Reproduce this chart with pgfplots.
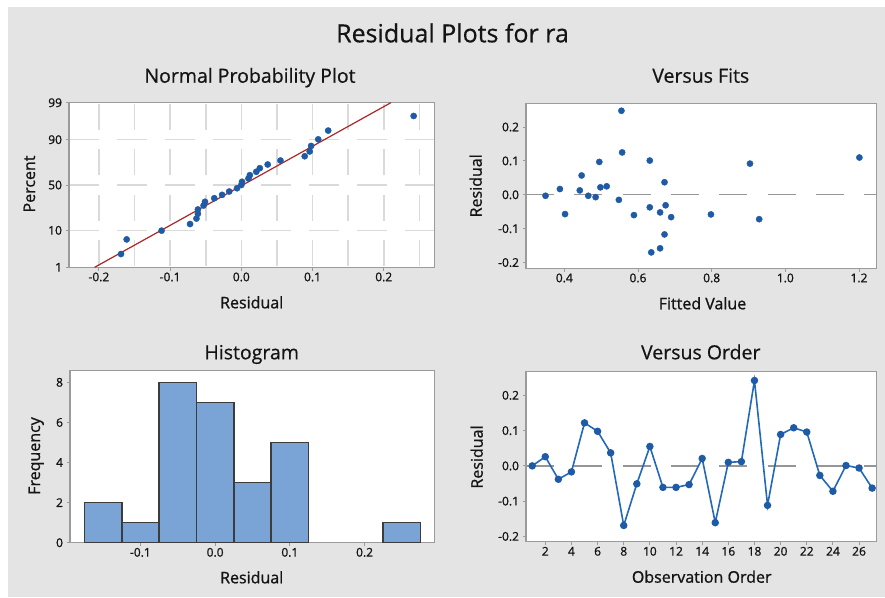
\documentclass[border=0pt]{standalone}
\usepackage{fontspec}
\setmainfont{Open Sans}
\newfontfamily\boldish{Open Sans}[FakeBold=1]
\newfontfamily\semi{Open Sans}[FakeBold=0.5]
\usepackage{pgfplots}
\pgfplotsset{compat=1.18}
\definecolor{bg}{RGB}{228,228,228}
\definecolor{frame}{RGB}{155,155,155}
\definecolor{mblue}{RGB}{30,90,165}
\definecolor{lblue}{RGB}{35,105,185}
\definecolor{mred}{RGB}{170,40,40}
\definecolor{hfill}{RGB}{122,163,214}
\definecolor{hedge}{RGB}{60,60,60}
\definecolor{txt}{RGB}{20,20,20}
\definecolor{gridc}{RGB}{218,218,218}
\definecolor{zline}{RGB}{150,150,150}

\pgfplotsset{
  mm/.style={
    scale only axis,
    anchor=north west,
    axis background/.style={fill=white},
    axis line style={draw=frame, line width=1.5pt},
    tick align=outside,
    major tick length=3.5pt,
    tick style={draw=frame, line width=0.9pt},
    tick pos=left,
    /pgf/number format/assume math mode=true,
    tick label style={font=\boldish\fontsize{12}{13}\selectfont, text=txt},
    xticklabel style={inner sep=1.5pt},
  },
}
\tikzset{
  ttl/.style={font=\semi\fontsize{19.5}{22}\selectfont, text=txt, anchor=base},
  lbl/.style={font=\boldish\fontsize{16}{19}\selectfont, text=txt, anchor=base},
}

\begin{document}
\begin{tikzpicture}
\path[use as bounding box] (0pt,0pt) rectangle (885pt,-597pt);
\fill[white] (0pt,0pt) rectangle (885pt,-597pt);
\fill[bg] (8pt,-7pt) rectangle (885pt,-597pt);

% ---------------- Normal probability plot
\begin{axis}[mm, at={(69pt,-102.7pt)}, width=365.3pt, height=164.6pt,
  xmin=-0.242, xmax=0.271, ymin=-2.326, ymax=2.326,
  xtick={-0.2,-0.1,0,0.1,0.2}, xticklabels={-0.2,-0.1,0.0,0.1,0.2},
  ytick={-1.2816,0,1.2816}, yticklabels={10,50,90},
  extra y ticks={-2.326,2.326}, extra y tick labels={1,99},
  extra y tick style={grid=none},
  minor xtick={-0.15,-0.05,0.05,0.15,0.25},
  minor tick length=0pt,
  xmajorgrids, xminorgrids, ymajorgrids,
  major x grid style={draw=gridc, line width=1.6pt, dash pattern=on 26pt off 19.3pt, dash phase=43.95pt},
  minor x grid style={draw=gridc, line width=1.6pt, dash pattern=on 26pt off 19.3pt, dash phase=43.95pt},
  major y grid style={draw=gridc, line width=1.6pt, dash pattern=on 30pt off 18pt},
]
\addplot[mred, line width=1.2pt] coordinates {(-0.206,-2.326) (0.21,2.326)};
\addplot[only marks, mark=*, mark size=3.1pt, mblue] table {
x z
-0.169 -1.951
-0.161 -1.538
-0.112 -1.290
-0.072 -1.103
-0.063 -0.948
-0.061 -0.813
-0.061 -0.692
-0.053 -0.580
-0.051 -0.475
-0.038 -0.374
-0.027 -0.278
-0.017 -0.184
-0.006 -0.0916
0.000 0
0.001 0.0916
0.010 0.184
0.012 0.278
0.021 0.374
0.026 0.475
0.037 0.580
0.055 0.692
0.089 0.813
0.096 0.948
0.098 1.103
0.108 1.290
0.122 1.538
0.242 1.951
};
\end{axis}

% ---------------- Versus fits
\begin{axis}[mm, at={(526pt,-103.3pt)}, width=350.7pt, height=165pt,
  xmin=0.296, xmax=1.248, ymin=-0.217, ymax=0.27,
  xtick={0.4,0.6,0.8,1.0,1.2}, xticklabels={0.4,0.6,0.8,1.0,1.2},
  ytick={-0.2,-0.1,0,0.1,0.2}, yticklabels={-0.2,-0.1,0.0,0.1,0.2},
]
\addplot[zline, line width=1.4pt, dash pattern=on 28pt off 20.3pt] coordinates {(0.296,0) (1.248,0)};
\addplot[only marks, mark=*, mark size=3.1pt, mblue] table {
x y
0.349 -0.003
0.388 0.017
0.402 -0.057
0.447 0.057
0.442 0.013
0.465 -0.003
0.485 -0.007
0.495 0.097
0.498 0.022
0.515 0.025
0.548 -0.015
0.555 0.248
0.557 0.125
0.589 -0.060
0.632 0.101
0.632 -0.037
0.636 -0.170
0.660 -0.052
0.660 -0.158
0.672 0.037
0.675 -0.031
0.672 -0.117
0.690 -0.066
0.798 -0.058
0.904 0.092
0.929 -0.072
1.201 0.110
};
\end{axis}

% ---------------- Histogram
\begin{axis}[mm, at={(70pt,-370.7pt)}, width=364.3pt, height=172pt,
  xmin=-0.1942, xmax=0.2933, ymin=0, ymax=8.58,
  xtick={-0.1,0,0.1,0.2}, xticklabels={-0.1,0.0,0.1,0.2},
  ytick={0,2,4,6,8},
]
\addplot[ybar interval, fill=hfill, draw=hedge, line width=1.6pt] coordinates {
(-0.175,2) (-0.125,1) (-0.075,8) (-0.025,7) (0.025,3) (0.075,5) (0.125,5)};
\addplot[ybar interval, fill=hfill, draw=hedge, line width=1.6pt] coordinates {
(0.225,1) (0.275,1)};
\end{axis}

% ---------------- Versus order
\begin{axis}[mm, at={(526pt,-371.7pt)}, width=350.7pt, height=170pt,
  xmin=0.525, xmax=27.35, ymin=-0.215, ymax=0.267,
  xtick={2,4,...,26},
  ytick={-0.2,-0.1,0,0.1,0.2}, yticklabels={-0.2,-0.1,0.0,0.1,0.2},
]
\addplot[zline, line width=1.4pt, dash pattern=on 28pt off 20.3pt] coordinates {(0.525,0) (27.35,0)};
\addplot[lblue, line width=1.6pt, mark=*, mark size=2.9pt, mark options={fill=mblue, draw=mblue}] table {
x y
1 0.000
2 0.026
3 -0.038
4 -0.017
5 0.122
6 0.098
7 0.037
8 -0.169
9 -0.051
10 0.055
11 -0.061
12 -0.061
13 -0.053
14 0.021
15 -0.161
16 0.010
17 0.012
18 0.242
19 -0.112
20 0.089
21 0.108
22 0.096
23 -0.027
24 -0.072
25 0.001
26 -0.006
27 -0.063
};
\end{axis}

% ---------------- Texts
\node[font=\semi\fontsize{25}{30}\selectfont, text=txt, anchor=base] at (452.5pt,-42.3pt) {Residual Plots for ra};
\node[ttl] at (250pt,-82.7pt) {Normal Probability Plot};
\node[ttl] at (700.8pt,-82.7pt) {Versus Fits};
\node[ttl] at (251.7pt,-359.3pt) {Histogram};
\node[ttl] at (700.8pt,-359.3pt) {Versus Order};
\node[lbl] at (251.7pt,-308.3pt) {Residual};
\node[lbl] at (702.5pt,-309.3pt) {Fitted Value};
\node[lbl] at (251.7pt,-583.3pt) {Residual};
\node[lbl] at (701.7pt,-582.7pt) {Observation Order};
\node[lbl, rotate=90] at (35pt,-184pt) {Percent};
\node[lbl, rotate=90] at (481.7pt,-185.8pt) {Residual};
\node[lbl, rotate=90] at (40pt,-456pt) {Frequency};
\node[lbl, rotate=90] at (482.7pt,-457pt) {Residual};
\end{tikzpicture}
\end{document}
